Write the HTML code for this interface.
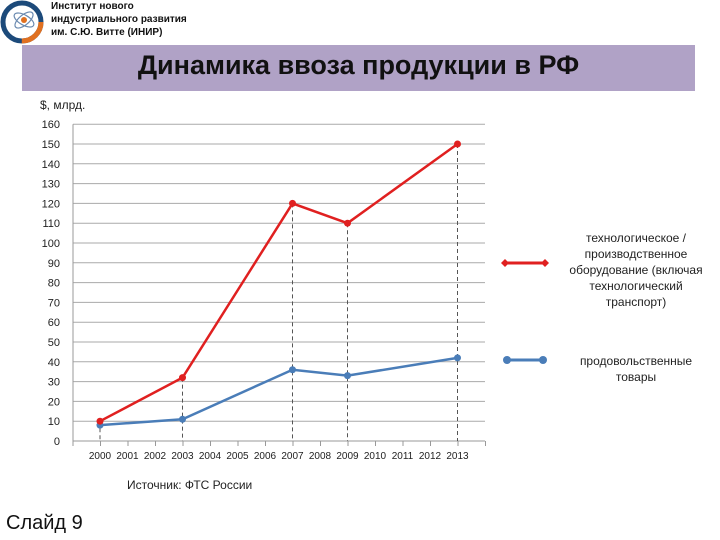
<!DOCTYPE html>
<html><head><meta charset="utf-8"><style>
body{margin:0;width:720px;height:540px;background:#fff;font-family:"Liberation Sans","Noto Sans CJK SC",sans-serif;position:relative;overflow:hidden}
.abs{position:absolute}
</style></head><body>
<svg class="abs" style="left:0;top:0" width="720" height="540">
  <g>
    <circle cx="22" cy="22" r="19" fill="none" stroke="#1c4a7a" stroke-width="5"/>
    <circle cx="22" cy="22" r="19" fill="none" stroke="#e07020" stroke-width="5" stroke-dasharray="30 120"/>
    <ellipse cx="24" cy="20" rx="11" ry="5" fill="none" stroke="#6a8ab0" stroke-width="1.2" transform="rotate(30 24 20)"/>
    <ellipse cx="24" cy="20" rx="11" ry="5" fill="none" stroke="#6a8ab0" stroke-width="1.2" transform="rotate(-40 24 20)"/>
    <circle cx="24" cy="20" r="3" fill="#e07020"/>
  </g>
  <rect x="22" y="45" width="673" height="46" fill="#b0a2c6"/>
  <g id="chart"></g>
</svg>
<div class="abs" style="left:51px;top:0;font-size:10px;line-height:13px;color:#111;font-weight:bold">Институт нового<br>индустриального развития<br>им. С.Ю. Витте (ИНИР)</div>
<div class="abs" style="left:22px;top:50px;width:673px;text-align:center;font-size:27px;font-weight:bold;color:#111">Динамика ввоза продукции в РФ</div>
<div class="abs" style="left:40px;top:98px;font-size:12px;color:#222">$, млрд.</div>
<div class="abs" style="left:127px;top:478px;font-size:12px;color:#222">Источник: ФТС России</div>
<div class="abs" style="left:6px;top:512px;font-size:20px;color:#111">Слайд 9</div>
<div class="abs" style="left:560px;top:230px;width:152px;text-align:center;font-size:12px;line-height:16px;color:#222">технологическое / производственное оборудование (включая технологический транспорт)</div>
<div class="abs" style="left:560px;top:353px;width:152px;text-align:center;font-size:12px;line-height:16px;color:#222">продовольственные товары</div>
<script>
const years=[2000,2003,2007,2009,2013];
const equipment=[10,32,120,110,150];
const food=[8,11,36,33,42];
const yTicks=[0,10,20,30,40,50,60,70,80,90,100,110,120,130,140,150,160];
const xLabels=[2000,2001,2002,2003,2004,2005,2006,2007,2008,2009,2010,2011,2012,2013];
const NS='http://www.w3.org/2000/svg';
const g=document.getElementById('chart');
const X=yr=>100+27.5*(yr-2000);
const Y=v=>441-v*1.98;
function mk(t,a){const e=document.createElementNS(NS,t);for(const k in a)e.setAttribute(k,a[k]);g.appendChild(e);return e;}
yTicks.forEach(v=>{
  const l=mk('line',{x1:73,x2:485,y1:Y(v),y2:Y(v),stroke:v===0?'#999':'#aaa','stroke-width':1});
  
  
  const t=mk('text',{x:60,y:Y(v)+4,'text-anchor':'end','font-size':11,fill:'#222','font-family':'Liberation Sans, sans-serif'});
  t.textContent=v;
  
  
});
const ax=mk('line',{x1:73,x2:73,y1:Y(160),y2:Y(0),stroke:'#999'});


for(let k=0;k<=15;k++){const tk=mk('line',{x1:73+27.5*k,x2:73+27.5*k,y1:441,y2:446,stroke:'#999'});

}
xLabels.forEach(yr=>{const t=mk('text',{x:X(yr),y:459,'text-anchor':'middle','font-size':10,fill:'#222','font-family':'Liberation Sans, sans-serif'});t.textContent=yr;

});
years.forEach((yr,i)=>{const top=Math.max(equipment[i],food[i]);
const d=mk('line',{x1:X(yr),x2:X(yr),y1:Y(top),y2:441,stroke:'#555','stroke-dasharray':'4 3'});

});
function series(vals,color,name){
  const p=mk('polyline',{points:vals.map((v,i)=>X(years[i])+','+Y(v)).join(' '),fill:'none',stroke:color,'stroke-width':2.5});
  
  
  vals.forEach((v,i)=>{const c=mk('circle',{cx:X(years[i]),cy:Y(v),r:3.5,fill:color});
  
  });
}
series(food,'#4a7db8','food');
series(equipment,'#e02020','equipment');
const l1=mk('line',{x1:505,x2:545,y1:263,y2:263,stroke:'#e02020','stroke-width':3});


[505,545].forEach(x=>mk('path',{d:`M${x} 259 L${x+4} 263 L${x} 267 L${x-4} 263Z`,fill:'#e02020'}));
const l2=mk('line',{x1:507,x2:543,y1:360,y2:360,stroke:'#4a7db8','stroke-width':3});


[507,543].forEach(x=>mk('circle',{cx:x,cy:360,r:4,fill:'#4a7db8'}));
</script>
</body></html>
